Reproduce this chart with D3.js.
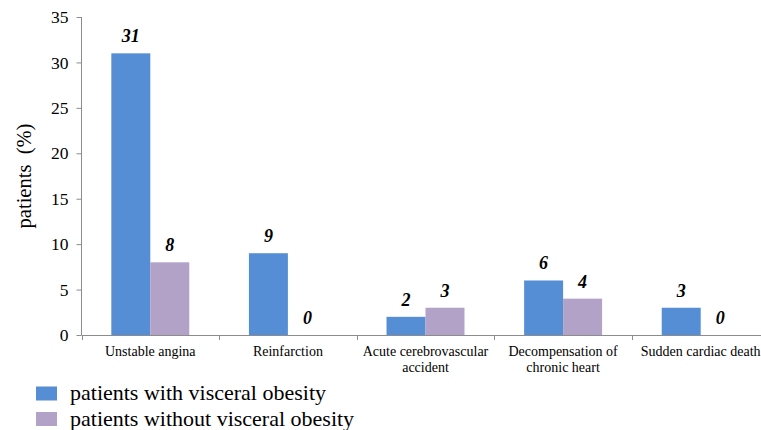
<!DOCTYPE html>
<html>
<head>
<meta charset="utf-8">
<script src="https://cdn.jsdelivr.net/npm/d3@7"></script>
<style>
  html, body { margin: 0; padding: 0; background: #fff; }
  svg { display: block; }
</style>
</head>
<body>
<svg id="chart" width="761" height="430"></svg>
<script>
// Outcomes by category
const categories = [
  ["Unstable angina"],
  ["Reinfarction"],
  ["Acute cerebrovascular", "accident"],
  ["Decompensation of", "chronic heart"],
  ["Sudden cardiac death"]
];
const withObesity = [31, 9, 2, 6, 3];
const withoutObesity = [8, 0, 3, 4, 0];
const seriesNames = ["patients with visceral obesity", "patients without visceral obesity"];
const seriesColors = ["#558ED5", "#B3A2C7"];
const yTicks = [0, 5, 10, 15, 20, 25, 30, 35];

const serif = "Liberation Serif, Times New Roman, serif";

const svg = d3.select("#chart");
const plotLeft = 81.5, plotRight = 769.5, plotTop = 17, plotBottom = 335;

const x = d3.scaleBand()
  .domain(d3.range(categories.length))
  .range([plotLeft, plotRight])
  .paddingInner(0).paddingOuter(0);

const inner = d3.scaleBand()
  .domain([0, 1])
  .range([0, x.bandwidth()])
  .paddingInner(0)
  .paddingOuter(0.765);

const y = d3.scaleLinear().domain([0, 35]).range([plotBottom, plotTop]);

const axisColor = "#8c8c8c";

// y axis
const yAxis = svg.append("g")
  .attr("transform", `translate(${plotLeft},0)`)
  .call(d3.axisLeft(y).tickValues(yTicks).tickSize(5).tickPadding(8).tickFormat(d3.format("d")));
yAxis.attr("font-family", serif).attr("font-size", 17.5);
yAxis.select(".domain").attr("stroke", axisColor).attr("d", `M0,${plotTop}V${plotBottom}`);
yAxis.selectAll(".tick line").attr("stroke", axisColor);
yAxis.selectAll(".tick text").attr("fill", "#000");

// y axis title
svg.append("text")
  .attr("transform", `translate(31,176) rotate(-90)`)
  .attr("text-anchor", "middle")
  .attr("font-family", serif)
  .attr("font-size", 20.5)
  .attr("fill", "#000")
  .attr("xml:space", "preserve")
  .text("patients  (%)");

// bars and value labels
const series = [withObesity, withoutObesity];
series.forEach((vals, s) => {
  svg.append("g").selectAll("rect")
    .data(vals)
    .join("rect")
    .attr("x", (d, i) => x(i) + inner(s))
    .attr("width", inner.bandwidth())
    .attr("y", d => y(d))
    .attr("height", d => y(0) - y(d))
    .attr("fill", seriesColors[s]);

  svg.append("g").selectAll("text")
    .data(vals)
    .join("text")
    .attr("x", (d, i) => x(i) + inner(s) + inner.bandwidth() / 2)
    .attr("y", d => y(d) - 11)
    .attr("text-anchor", "middle")
    .attr("font-family", serif)
    .attr("font-size", 18)
    .attr("font-weight", "bold")
    .attr("font-style", "italic")
    .attr("fill", "#000")
    .text(d => d);
});

// x axis
const xg = svg.append("g");
xg.append("line")
  .attr("x1", plotLeft).attr("x2", plotRight)
  .attr("y1", plotBottom + 0.5).attr("y2", plotBottom + 0.5)
  .attr("stroke", axisColor);
xg.selectAll("line.tick")
  .data(d3.range(categories.length + 1))
  .join("line")
  .attr("class", "tick")
  .attr("x1", i => Math.round(plotLeft + i * x.step()) + 0.5)
  .attr("x2", i => Math.round(plotLeft + i * x.step()) + 0.5)
  .attr("y1", plotBottom)
  .attr("y2", plotBottom + 5)
  .attr("stroke", axisColor);

const labels = xg.selectAll("text.cat")
  .data(categories)
  .join("text")
  .attr("class", "cat")
  .attr("text-anchor", "middle")
  .attr("font-family", serif)
  .attr("font-size", 14)
  .attr("fill", "#000");
labels.each(function (lines, i) {
  const t = d3.select(this);
  lines.forEach((ln, k) => {
    t.append("tspan")
      .attr("x", x(i) + x.bandwidth() / 2)
      .attr("y", 356 + k * 16)
      .text(ln);
  });
});

// legend
const legend = svg.append("g");
seriesNames.forEach((name, s) => {
  const gy = 386.5 + s * 25.5;
  legend.append("rect")
    .attr("x", 36).attr("y", gy)
    .attr("width", 21).attr("height", 14)
    .attr("fill", seriesColors[s]);
  legend.append("text")
    .attr("x", 70).attr("y", gy + 13.5)
    .attr("font-family", serif)
    .attr("font-size", 22)
    .attr("fill", "#000")
    .text(name);
});
</script>
</body>
</html>
